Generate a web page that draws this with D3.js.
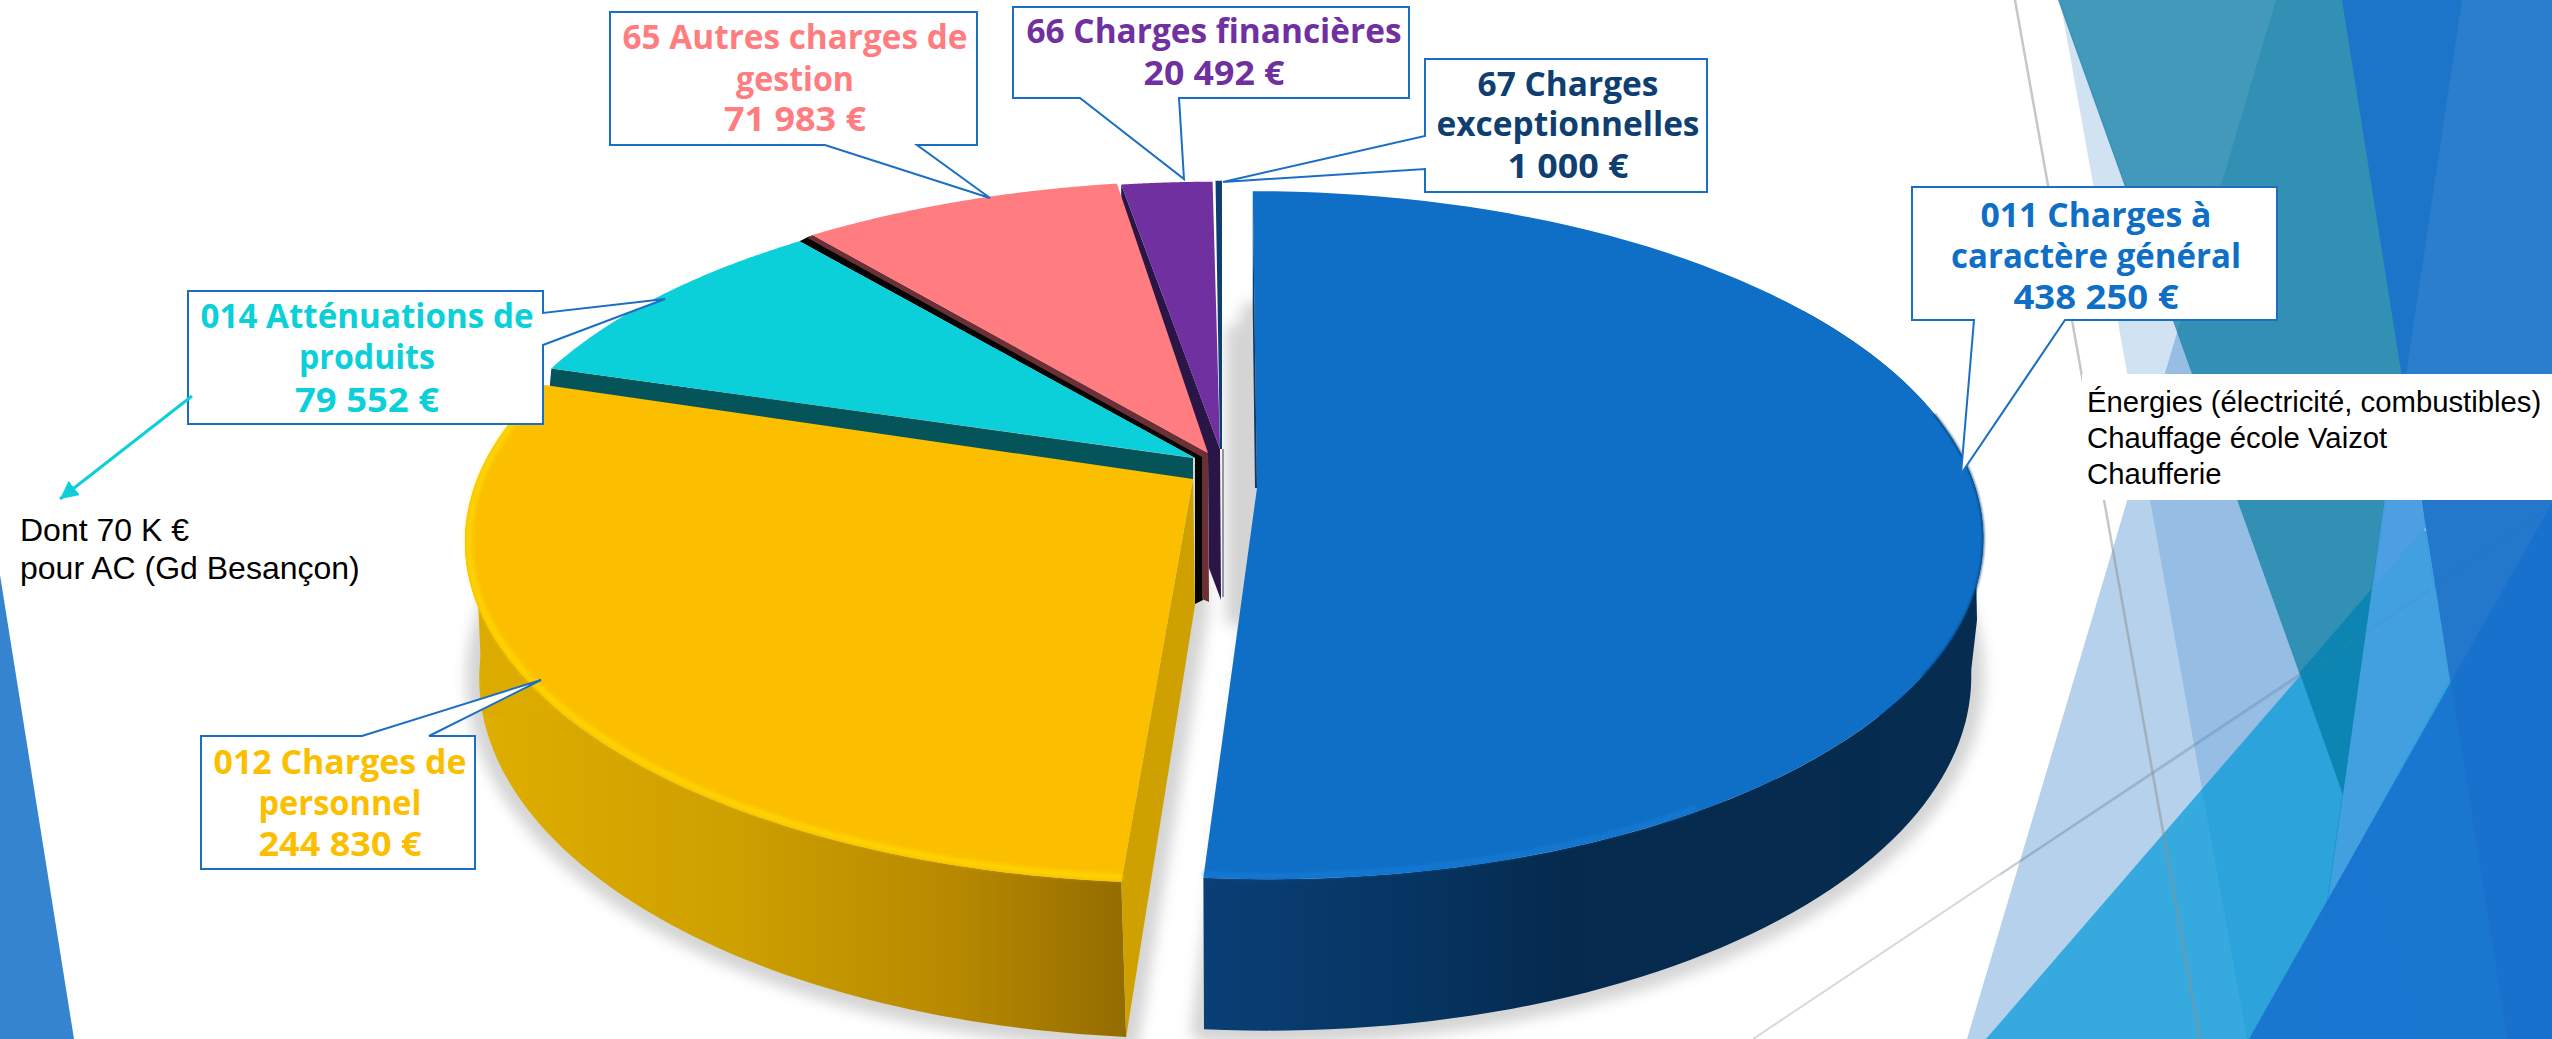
<!DOCTYPE html>
<html><head><meta charset="utf-8">
<script src="https://cdn.jsdelivr.net/npm/d3@7"></script>
<style>html,body{margin:0;padding:0;background:#fff}svg{display:block}</style>
</head><body><svg id="c" width="2552" height="1039"></svg>
<script>
// ---------- data ----------
const categories = ["011 Charges à caractère général","012 Charges de personnel","014 Atténuations de produits","65 Autres charges de gestion","66 Charges financières","67 Charges exceptionnelles"];
const values = [438250,244830,79552,71983,20492,1000];
const valueLabels = ["438 250 €","244 830 €","79 552 €","71 983 €","20 492 €","1 000 €"];
const colors = ["#0f6fc6","#fbbf00","#0bcfd9","#ff7c80","#7030a0","#0f3f70"];
const labelLines = [["011 Charges à","caractère général"],["012 Charges de","personnel"],["014 Atténuations de","produits"],["65 Autres charges de","gestion"],["66 Charges financières"],["67 Charges","exceptionnelles"]];
const noteLeft = ["Dont 70 K €","pour AC (Gd Besançon)"];
const noteRight = ["Énergies (électricité, combustibles)","Chauffage école Vaizot","Chaufferie"];

// ---------- layout ----------
const K=-0.175;
const topPlanes=[
 {ax:1259,ay:475,rx:723,ry:344,skew:.022},
 {ax:1193,ay:479,rx:727,ry:344,skew:-.017},
 {ax:1195,ay:458,rx:720,ry:328},
 {ax:1208,ay:453,rx:727,ry:330,skew:-.018},
 {ax:1220,ay:449,rx:727,ry:324,skew:.011},
 {ax:1221,ay:449,rx:727,ry:324}];
const blueApex=[1257,488];
const bottomBlue={ax:1259,ay:610,rx:711,ry:358,skew:.02};
const bottomRest={ax:1195,ay:613,rx:715,ry:362,skew:-.012};
const boxes=[
 {pts:[[1912,187],[2277,187],[2277,320],[2065,320],[1961,474],[1974,320],[1912,320]],base:[227,268,309],cx:2096,w:[231,290,165],c:0},
 {pts:[[201,736],[362,736],[541,680],[429,736],[475,736],[475,869],[201,869]],base:[774,815,856],cx:340,w:[253,163,163],c:1},
 {pts:[[188,291],[543,291],[543,313],[665,299],[543,345],[543,424],[188,424]],base:[328,369,412],cx:367,w:[333,136,144],c:2},
 {pts:[[610,12],[977,12],[977,145],[917,145],[990,198],[825,145],[610,145]],base:[49,91,131],cx:795,w:[345,118,142],c:3},
 {pts:[[1013,7],[1409,7],[1409,98],[1179,98],[1184,179],[1080,98],[1013,98]],base:[43,85],cx:1214,w:[375,141],c:4},
 {pts:[[1425,59],[1707,59],[1707,192],[1425,192],[1425,169],[1223,182],[1425,136]],base:[96,136,178],cx:1568,w:[181,263,121],c:5}];
const bgPolys=[
 {p:[[2060,0],[2247,1039],[2430,1039]],f:"#1a6fc4",o:.2},
 {p:[[2276,0],[2462,0],[2307,1039],[1967,1039]],f:"#1a6fc4",o:.32},
 {p:[[2058,0],[2462,0],[2343,795]],f:"#137fa8",o:.8},
 {p:[[2400,390],[2552,390],[2552,1039],[2307,1039]],f:"#1a5fd0",o:.45},
 {p:[[1986,1039],[2426,530],[2507,1039]],f:"#0099d9",o:.7},
 {p:[[2300,672],[2375,585],[2343,795]],f:"#0c85b2",o:1},
 {p:[[2400,390],[2450,678],[2328,902],[2343,795]],f:"#429fe0",o:1},
 {p:[[2400,390],[2426,527],[2375,585]],f:"#4c9fe2",o:1},
 {p:[[2342,0],[2552,0],[2552,1039],[2507,1039]],f:"#1b73c9",o:.93},
 {p:[[2249,1039],[2552,503],[2552,1039]],f:"#1770ce",o:.85},
 {p:[[0,575],[74,1039],[0,1039]],f:"#3584d0",o:1}];

// ---------- helpers ----------
const svg=d3.select("#c");
const defs=svg.append("defs");
const line=d3.line();
const poly=p=>line(p)+"Z";
function projector(pl){
  const b=pl.ry*(1-K*K),c=pl.rx*Math.sqrt(1-K*K),s=pl.skew||0;
  return a=>{const u=Math.sin(a),v=-Math.cos(a),d=1+K*v,Y=pl.ay+b*v/d;return [pl.ax+c*u/d+s*(Y-pl.ay),Y];};
}
const angles=(a0,a1)=>d3.range(0,91).map(i=>a0+(a1-a0)*i/90);
const arcPts=(pl,a0,a1)=>angles(a0,a1).map(projector(pl));
const pie=d3.pie().sort(null)(values);
const gradient=(id,x1,x2,st)=>{const g=defs.append("linearGradient").attr("id",id).attr("gradientUnits","userSpaceOnUse").attr("x1",x1).attr("x2",x2).attr("y1",0).attr("y2",0);
  st.forEach(s=>g.append("stop").attr("offset",s[0]).attr("stop-color",s[1]));};
gradient("wb",1203,1990,[[0,"#0a3f76"],[.3,"#06335f"],[.45,"#052a4e"],[1,"#062c50"]]);
gradient("wy",470,1126,[[0,"#dfae00"],[.4,"#cea000"],[.75,"#b68800"],[1,"#936c00"]]);
defs.append("filter").attr("id","sh").attr("x","-10%").attr("y","-10%").attr("width","120%").attr("height","120%").append("feGaussianBlur").attr("stdDeviation",7);
defs.append("filter").attr("id","bv").attr("x","-10%").attr("y","-10%").attr("width","120%").attr("height","120%").append("feGaussianBlur").attr("stdDeviation",2);
defs.append("filter").attr("id","bd").attr("x","-10%").attr("y","-10%").attr("width","120%").attr("height","120%").append("feGaussianBlur").attr("stdDeviation",1.2);

// ---------- background ----------
const bg=svg.append("g");
bg.append("line").attr("x1",1753).attr("y1",1039).attr("x2",2552).attr("y2",506).attr("stroke","#d9d9d9").attr("stroke-width",2);
bgPolys.forEach(d=>bg.append("path").attr("d",poly(d.p)).attr("fill",d.f).attr("fill-opacity",d.o));
bg.append("line").attr("x1",2015).attr("y1",0).attr("x2",2200).attr("y2",1039).attr("stroke","#8f8f8f").attr("stroke-opacity",.5).attr("stroke-width",2.5);
bg.append("line").attr("x1",2000).attr("y1",875).attr("x2",2430).attr("y2",590).attr("stroke","#5a7fa5").attr("stroke-opacity",.18).attr("stroke-width",2);

// ---------- pie ----------
const [pb,py,pc,pp,pu,pn]=pie;
const tops=topPlanes.map(projector);
const botB=projector(bottomBlue),botR=projector(bottomRest);
const g=svg.append("g");
// shadow
const wedge=(pl,a0,a1,apex)=>poly([apex||[pl.ax,pl.ay]].concat(arcPts(pl,a0,a1)));
const sh=g.append("g").attr("filter","url(#sh)").attr("fill","#d4d4d4").attr("stroke","#d4d4d4").attr("stroke-width",26).attr("stroke-linejoin","round");
sh.append("path").attr("d",wedge(bottomBlue,pb.startAngle,pb.endAngle));
sh.append("path").attr("d",wedge(bottomRest,py.startAngle,pn.endAngle));
sh.append("rect").attr("x",1226).attr("y",325).attr("width",30).attr("height",300).attr("stroke","none");
// outer walls
const wall=(top,bot,a0,a1,f)=>g.append("path").attr("d",poly(arcPts(top,a0,a1).concat(arcPts(bot,a0,a1).reverse()))).attr("fill",f);
wall(topPlanes[0],bottomBlue,1.0,pb.endAngle,"url(#wb)");
wall(topPlanes[1],bottomRest,py.startAngle,4.9,"url(#wy)");
// silhouette joins between the upper and lower rims
g.append("path").attr("d",poly([tops[0](1.6),[1977,620],botB(1.886),[1700,700],[1700,500]])).attr("fill","#062c50");
g.append("path").attr("d",poly([tops[1](4.68),botR(4.43),[700,700],[700,500]])).attr("fill","#dcab00");
// yellow inner wall
g.append("path").attr("d",poly([[topPlanes[1].ax,topPlanes[1].ay],tops[1](py.startAngle),botR(py.startAngle),[bottomRest.ax,bottomRest.ay-8]])).attr("fill","#cfa100");
// teal wall under the yellow top
const ce0=tops[2](pc.startAngle);
g.append("path").attr("d",poly([ce0,[topPlanes[1].ax,topPlanes[2].ay],[topPlanes[1].ax,topPlanes[2].ay+22],[ce0[0]-2,ce0[1]+22]])).attr("fill","#045459");
// yellow and blue tops
g.append("path").attr("d",wedge(topPlanes[1],py.startAngle,py.endAngle)).attr("fill",colors[1]);
g.append("path").attr("d",line(arcPts({...topPlanes[1],rx:topPlanes[1].rx-4,ry:topPlanes[1].ry-4},py.startAngle,4.95))).attr("fill","none").attr("stroke","#ffd800").attr("stroke-width",5).attr("filter","url(#bv)");
g.append("path").attr("d",wedge(topPlanes[0],pb.startAngle,pb.endAngle,blueApex)).attr("fill",colors[0]);
g.append("path").attr("d",line(arcPts({...topPlanes[0],rx:topPlanes[0].rx-3,ry:topPlanes[0].ry-3},2.6,pb.endAngle))).attr("fill","none").attr("stroke","#1a80de").attr("stroke-width",4).attr("stroke-opacity",.7).attr("filter","url(#bv)");
g.append("path").attr("d",line(arcPts(topPlanes[0],1.38,2.15))).attr("fill","none").attr("stroke","#083a6c").attr("stroke-width",2).attr("stroke-opacity",.8).attr("filter","url(#bd)");
g.append("path").attr("d",poly([tops[0](0),[tops[0](0)[0],310],[blueApex[0]-2,blueApex[1]],blueApex])).attr("fill","#0a3a6a");
// slice end walls between the small slices
const depth=146;
const cA=[topPlanes[2].ax,topPlanes[2].ay],pA=[topPlanes[3].ax,topPlanes[3].ay],uA=[topPlanes[4].ax,topPlanes[4].ay];
const ce=tops[2](pc.endAngle), ps=tops[3](pp.startAngle), us=tops[4](pu.startAngle);
g.append("path").attr("d",poly([ce,cA,[cA[0],cA[1]+depth],[cA[0]+8,cA[1]+depth-4],[cA[0]+8,cA[1]-6],[ce[0]+10,ce[1]-5]])).attr("fill","#050505");
g.append("path").attr("d",poly([[ps[0]-5,ps[1]+3],[pA[0]-6,pA[1]+4],[pA[0]-6,pA[1]+depth],[pA[0]+1,pA[1]+depth+3],pA,ps])).attr("fill","#6a3035");
g.append("path").attr("d",poly([us,[us[0],us[1]+28],[pA[0],pA[1]+2],[pA[0]+1,pA[1]+115],[uA[0]+1,uA[1]+151],uA])).attr("fill","#2a1547");
g.append("path").attr("d",line([[topPlanes[5].ax+2,topPlanes[5].ay],[topPlanes[5].ax+2,topPlanes[5].ay+148]])).attr("stroke","#6f7488").attr("stroke-width",1.5);
// small slice tops
[pc,pp,pu,pn].forEach((d,i)=>{const pl=topPlanes[i+2];
  g.append("path").attr("d",wedge(pl,d.startAngle,d.endAngle)).attr("fill",colors[i+2]).attr("stroke",i==3?colors[i+2]:"none").attr("stroke-width",i==3?2:0);});

// ---------- labels ----------
const font="'Open Sans',sans-serif";
boxes.forEach(b=>{
  svg.append("path").attr("d",poly(b.pts)).attr("fill","#fff").attr("stroke","#1a6fc4").attr("stroke-width",2).attr("stroke-linejoin","miter");
  const lines=labelLines[b.c].concat([valueLabels[b.c]]);
  lines.forEach((t,i)=>svg.append("text").attr("x",b.cx).attr("y",b.base[i]).attr("text-anchor","middle")
    .attr("font-family",font).attr("font-weight",700).attr("font-size",34)
    .attr("textLength",b.w[i]).attr("lengthAdjust","spacingAndGlyphs").attr("fill",colors[b.c]).text(t));
});
// arrow from 014 box
defs.append("marker").attr("id","ah").attr("viewBox","0 0 10 10").attr("refX",10).attr("refY",5).attr("markerWidth",6).attr("markerHeight",6).attr("orient","auto")
  .append("path").attr("d","M0,0L10,5L0,10Z").attr("fill",colors[2]);
svg.append("line").attr("x1",192).attr("y1",396).attr("x2",60).attr("y2",499).attr("stroke",colors[2]).attr("stroke-width",3).attr("marker-end","url(#ah)");
// notes
const nf="'Liberation Sans',Arial,sans-serif";
noteLeft.forEach((t,i)=>svg.append("text").attr("x",20).attr("y",541+i*38).attr("font-family",nf).attr("font-size",32).attr("fill","#000").text(t));
svg.append("rect").attr("x",2082).attr("y",374).attr("width",470).attr("height",126).attr("fill","#fff");
noteRight.forEach((t,i)=>svg.append("text").attr("x",2087).attr("y",412+i*36).attr("font-family",nf).attr("font-size",29.3).attr("fill","#000").text(t));
</script></body></html>
